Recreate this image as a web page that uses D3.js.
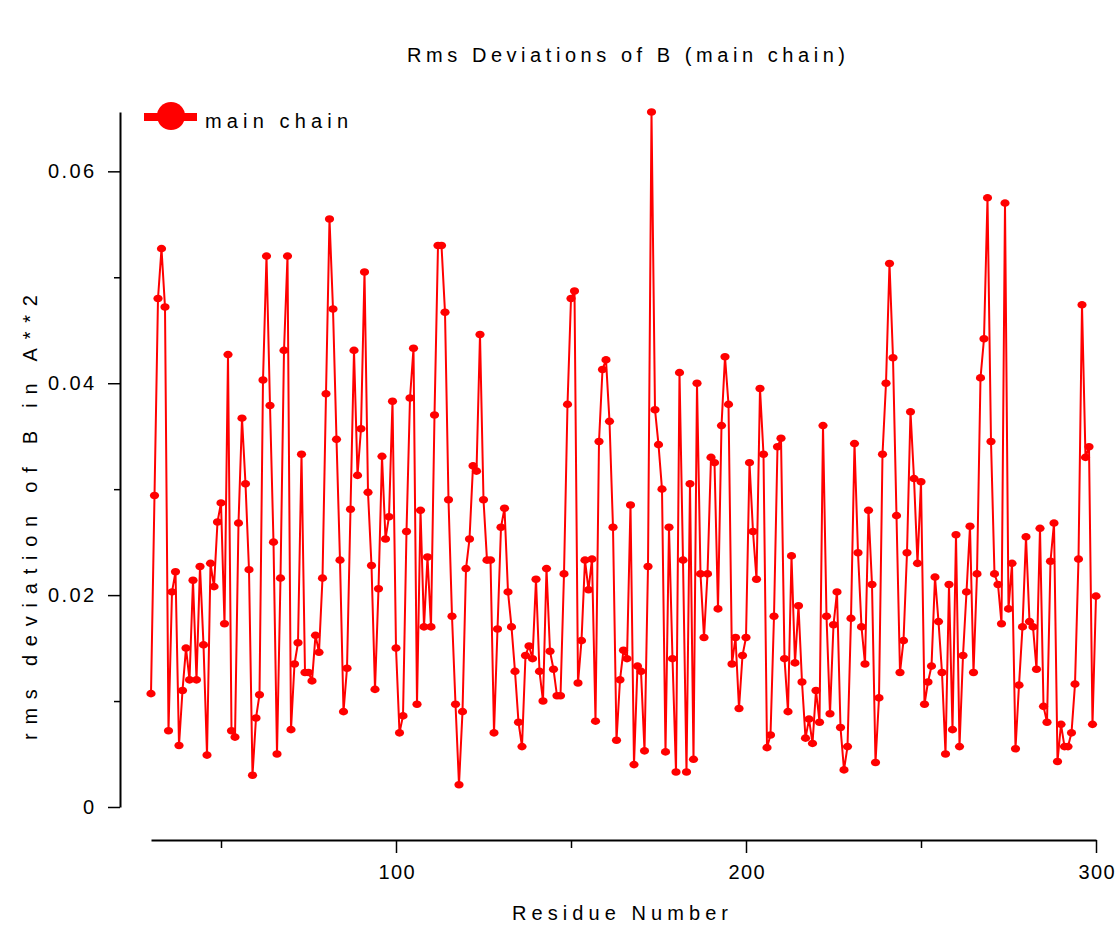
<!DOCTYPE html>
<html>
<head>
<meta charset="utf-8">
<script src="https://cdn.jsdelivr.net/npm/d3@7.9.0/dist/d3.min.js"></script>
<style>
  body { margin: 0; background: #fff; }
  text { font-family: "Liberation Sans Narrow", "Liberation Sans", Arial, sans-serif; fill: #000; }
</style>
</head>
<body>
<svg id="chart" width="1117" height="925"></svg>
<script>
// residues 30..300, one value each
const firstResidue = 30;
const rmsMain = [
  0.0107, 0.0294, 0.0480, 0.0527, 0.0472, 0.0072, 0.0203, 0.0222, 0.0058, 0.0110,
  0.0150, 0.0120, 0.0214, 0.0120, 0.0227, 0.0153, 0.0049, 0.0230, 0.0208, 0.0269,
  0.0287, 0.0173, 0.0427, 0.0072, 0.0066, 0.0268, 0.0367, 0.0305, 0.0224, 0.0030,
  0.0084, 0.0106, 0.0403, 0.0520, 0.0379, 0.0250, 0.0050, 0.0216, 0.0431, 0.0520,
  0.0073, 0.0135, 0.0155, 0.0333, 0.0127, 0.0127, 0.0119, 0.0162, 0.0146, 0.0216,
  0.0390, 0.0555, 0.0470, 0.0347, 0.0233, 0.0090, 0.0131, 0.0281, 0.0431, 0.0313,
  0.0357, 0.0505, 0.0297, 0.0228, 0.0111, 0.0206, 0.0331, 0.0253, 0.0274, 0.0383,
  0.0150, 0.0070, 0.0086, 0.0260, 0.0386, 0.0433, 0.0097, 0.0280, 0.0170, 0.0236,
  0.0170, 0.0370, 0.0530, 0.0530, 0.0467, 0.0290, 0.0180, 0.0097, 0.0021, 0.0090,
  0.0225, 0.0253, 0.0322, 0.0317, 0.0446, 0.0290, 0.0233, 0.0233, 0.0070, 0.0168,
  0.0264, 0.0282, 0.0203, 0.0170, 0.0128, 0.0080, 0.0057, 0.0143, 0.0152, 0.0140,
  0.0215, 0.0128, 0.0100, 0.0225, 0.0147, 0.0130, 0.0105, 0.0105, 0.0220, 0.0380,
  0.0480, 0.0487, 0.0117, 0.0157, 0.0233, 0.0205, 0.0234, 0.0081, 0.0345, 0.0413,
  0.0422, 0.0364, 0.0264, 0.0063, 0.0120, 0.0148, 0.0140, 0.0285, 0.0040, 0.0133,
  0.0128, 0.0053, 0.0227, 0.0656, 0.0375, 0.0342, 0.0300, 0.0052, 0.0264, 0.0140,
  0.0033, 0.0410, 0.0233, 0.0033, 0.0305, 0.0045, 0.0400, 0.0220, 0.0160, 0.0220,
  0.0330, 0.0325, 0.0187, 0.0360, 0.0425, 0.0380, 0.0135, 0.0160, 0.0093, 0.0143,
  0.0160, 0.0325, 0.0260, 0.0215, 0.0395, 0.0333, 0.0056, 0.0068, 0.0180, 0.0340,
  0.0348, 0.0140, 0.0090, 0.0237, 0.0136, 0.0190, 0.0118, 0.0065, 0.0083, 0.0060,
  0.0110, 0.0080, 0.0360, 0.0180, 0.0088, 0.0172, 0.0203, 0.0075, 0.0035, 0.0057,
  0.0178, 0.0343, 0.0240, 0.0170, 0.0135, 0.0280, 0.0210, 0.0042, 0.0103, 0.0333,
  0.0400, 0.0513, 0.0424, 0.0275, 0.0127, 0.0157, 0.0240, 0.0373, 0.0310, 0.0230,
  0.0307, 0.0097, 0.0118, 0.0133, 0.0217, 0.0175, 0.0127, 0.0050, 0.0210, 0.0073,
  0.0257, 0.0057, 0.0143, 0.0203, 0.0265, 0.0127, 0.0220, 0.0405, 0.0442, 0.0575,
  0.0345, 0.0220, 0.0210, 0.0173, 0.0570, 0.0187, 0.0230, 0.0055, 0.0115, 0.0170,
  0.0255, 0.0175, 0.0170, 0.0130, 0.0263, 0.0095, 0.0080, 0.0232, 0.0268, 0.0043,
  0.0078, 0.0057, 0.0057, 0.0070, 0.0116, 0.0234, 0.0474, 0.0330, 0.0340, 0.0078,
  0.0199
];
const residues = rmsMain.map((v, i) => firstResidue + i);

const xMajorTicks = [100, 200, 300];
const xMinorTicks = [50, 150, 250];
const yMajorTicks = [0, 0.02, 0.04, 0.06];
const yMinorTicks = [0.01, 0.03, 0.05];

const titleText = 'Rms Deviations of B (main chain)';
const xTitle = 'Residue Number';
const yTitle = 'rms deviation of B in A**2';
const seriesName = 'main chain';

const red = '#ff0000';
const font = '"Liberation Sans Narrow", "Liberation Sans", Arial, sans-serif';
const svg = d3.select('#chart');

const x = d3.scaleLinear().domain([30, 300]).range([151, 1096]);
const y = d3.scaleLinear().domain([0, 0.0656]).range([807, 112]);

// title
svg.append('text')
  .attr('x', 407).attr('y', 62)
  .attr('font-size', 20)
  .attr('textLength', 438).attr('lengthAdjust', 'spacing')
  .text(titleText);

// x axis (sits below the plot, detached from y axis)
const xAxisG = svg.append('g').attr('transform', 'translate(0,840)');
xAxisG.call(d3.axisBottom(x).tickValues(xMajorTicks).tickSize(13).tickSizeOuter(0).tickPadding(12).tickFormat(d3.format('d')));
xAxisG.append('g').call(d3.axisBottom(x).tickValues(xMinorTicks).tickSize(8).tickFormat(''))
  .select('.domain').remove();
xAxisG.selectAll('path.domain').attr('stroke-width', 2);
xAxisG.selectAll('line').attr('stroke-width', 1.5);
xAxisG.selectAll('text')
  .attr('font-size', 20).attr('font-family', font)
  .attr('textLength', 36).attr('lengthAdjust', 'spacing');

// y axis
const yAxisG = svg.append('g').attr('transform', 'translate(120,0)');
yAxisG.call(d3.axisLeft(y).tickValues(yMajorTicks).tickSize(12).tickSizeOuter(0).tickPadding(14)
  .tickFormat(d => d === 0 ? '0' : d3.format('.2f')(d)));
yAxisG.append('g').call(d3.axisLeft(y).tickValues(yMinorTicks).tickSize(6).tickFormat(''))
  .select('.domain').remove();
yAxisG.selectAll('path.domain').attr('stroke-width', 2);
yAxisG.selectAll('line').attr('stroke-width', 1.5);
yAxisG.selectAll('text')
  .attr('font-size', 20).attr('font-family', font)
  .each(function (d) {
    if (d !== 0) d3.select(this).attr('textLength', 46).attr('lengthAdjust', 'spacing');
  });

// axis titles
svg.append('text')
  .attr('x', 512).attr('y', 920)
  .attr('font-size', 20)
  .attr('textLength', 216).attr('lengthAdjust', 'spacing')
  .text(xTitle);

svg.append('text')
  .attr('transform', 'translate(37,740) rotate(-90)')
  .attr('font-size', 20)
  .attr('textLength', 445).attr('lengthAdjust', 'spacing')
  .text(yTitle);

// series
const line = d3.line()
  .x((d, i) => x(residues[i]))
  .y(d => y(d));

svg.append('path')
  .datum(rmsMain)
  .attr('fill', 'none')
  .attr('stroke', red)
  .attr('stroke-width', 2)
  .attr('stroke-linejoin', 'round')
  .attr('d', line);

svg.append('g')
  .selectAll('ellipse')
  .data(rmsMain)
  .join('ellipse')
  .attr('cx', (d, i) => x(residues[i]))
  .attr('cy', d => y(d))
  .attr('rx', 4.6)
  .attr('ry', 3.8)
  .attr('fill', red);

// legend
const legend = svg.append('g');
legend.append('line')
  .attr('x1', 144).attr('x2', 197).attr('y1', 117).attr('y2', 117)
  .attr('stroke', red).attr('stroke-width', 8);
legend.append('circle')
  .attr('cx', 171).attr('cy', 116).attr('r', 14)
  .attr('fill', red);
legend.append('text')
  .attr('x', 205).attr('y', 128)
  .attr('font-size', 20)
  .attr('textLength', 143).attr('lengthAdjust', 'spacing')
  .text(seriesName);
</script>
</body>
</html>
